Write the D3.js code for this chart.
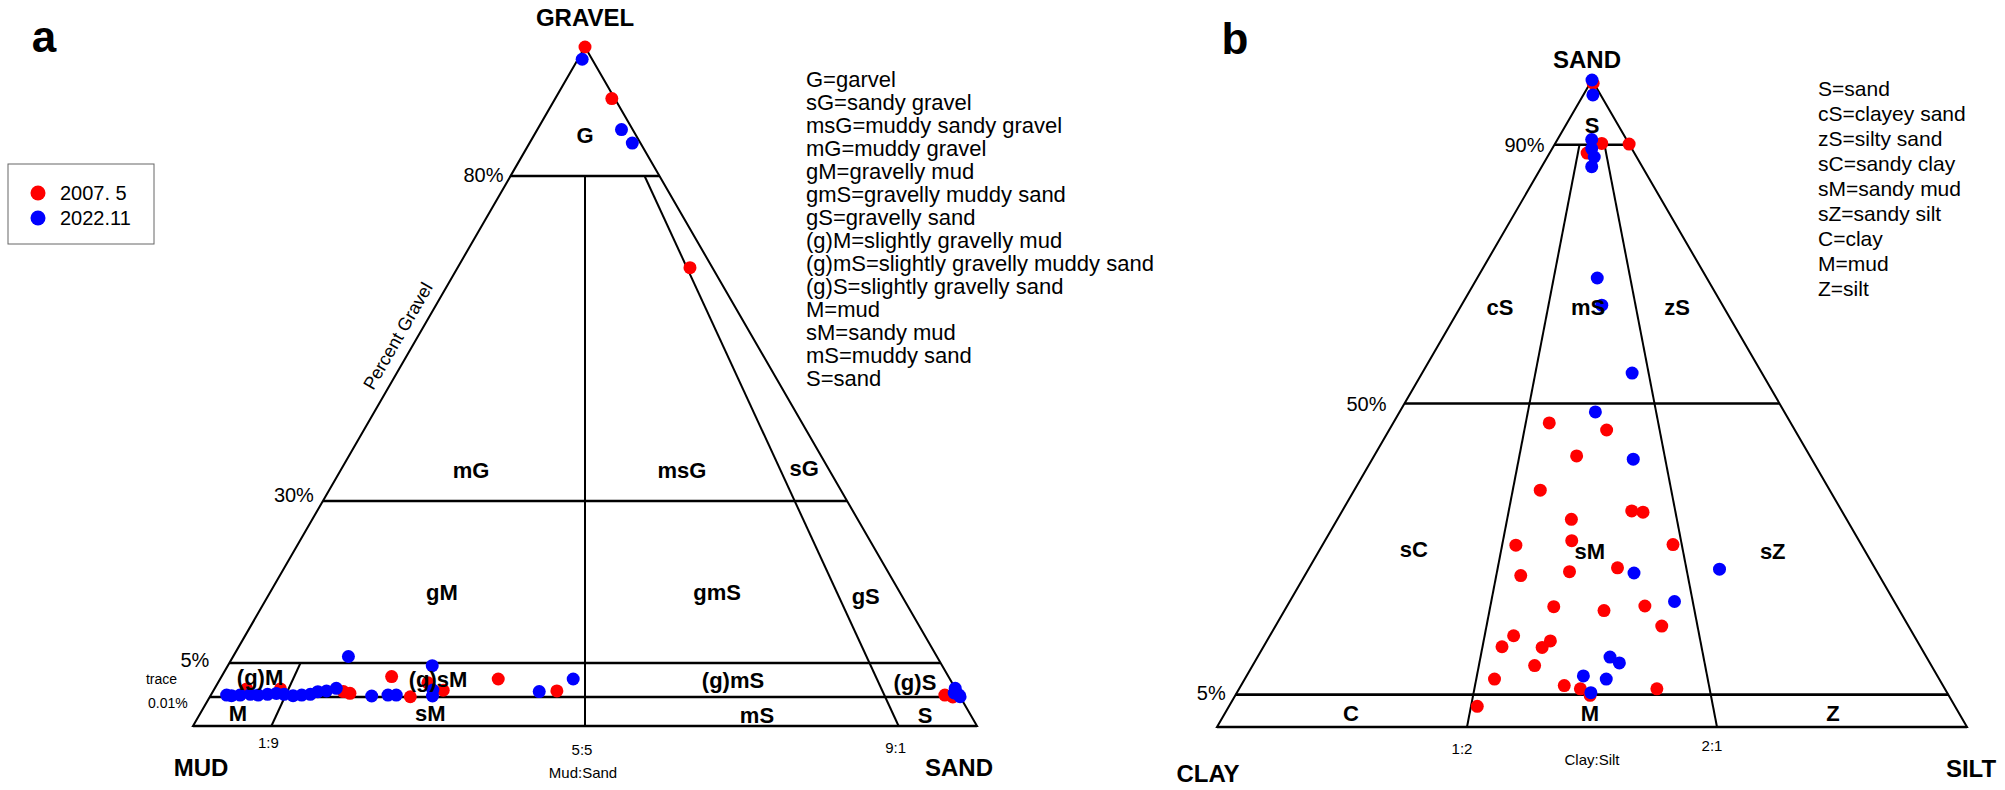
<!DOCTYPE html>
<html><head><meta charset="utf-8">
<script src="https://cdn.jsdelivr.net/npm/d3@7"></script>
<style>
html,body{margin:0;padding:0;background:#fff;}
text{font-family:"Liberation Sans",Arial,sans-serif;fill:#000;}
</style></head>
<body>
<svg id="chart" width="2005" height="790"></svg>
<script>
// ---------- DATA ----------
// Panel a: Folk gravel–sand–mud triangle, each sample [gravel%, sand%, mud%]
const gravelSeries2007 = [
  [100,0,0],[92.0,7.6,0.4],[65.9,31.1,3.0],[3.0,22.7,74.3],[2.65,37.1,60.25],
  [0.9,45.8,53.3],[1.2,4.3,94.5],[1.2,8.8,90.0],[0.8,17.4,81.8],[0.55,18.4,81.05],
  [0.05,26.7,73.25],[2.1,28.0,69.9],[1.0,30.6,68.4],[0.3,97.8,1.9],[0.01,99.0,0.99]
];
const gravelSeries2022 = [
  [98.1,0.57,1.33],[87.2,11.3,1.5],[85.1,13.8,1.1],[6.0,15.4,78.6],[4.6,27.3,68.1],
  [2.65,47.1,50.25],[0.8,43.5,55.7],
  [0.3,2.1,97.6],[0.2,2.8,97.0],[0.3,3.9,95.8],[0.4,5.2,94.4],[0.3,6.3,93.4],[0.4,7.5,92.1],
  [0.54,8.6,90.86],[0.4,9.7,89.9],[0.2,11.0,88.8],[0.3,12.1,87.6],[0.4,13.2,86.4],
  [0.79,14.0,85.21],[0.89,15.1,84.01],[1.29,16.2,82.51],
  [0.16,21.5,78.34],[0.3,23.6,76.1],[0.3,24.7,75.0],[1.04,29.2,69.76],[0.16,29.6,70.24],
  [1.29,98.71,0],[0.3,99.7,0],[0.05,99.95,0],[0.6,98.9,0.5]
];
// Panel b: sand–silt–clay triangle, each sample [sand%, silt%, clay%]
const sandSeries2007 = [
  [99.5,0.4,0.1],[90.2,6.2,3.6],[90.1,9.9,0],[88.7,5.0,6.3],[47.0,20.8,32.2],
  [45.9,29.0,25.1],[41.9,27.0,31.1],[36.6,24.8,38.6],[33.4,38.6,28.0],[33.2,40.2,26.6],
  [32.1,31.2,36.7],[28.2,46.7,25.1],[28.1,25.8,46.1],[28.8,32.9,38.3],[24.6,41.1,34.3],
  [23.4,28.8,47.8],[24.0,35.0,41.0],[18.6,35.6,45.8],[18.0,42.6,39.4],[18.7,47.7,33.6],
  [15.6,51.5,32.9],[14.1,32.5,53.4],[12.4,31.8,55.8],[13.3,37.8,48.9],[12.3,37.2,50.5],
  [9.5,37.6,52.9],[7.4,33.3,59.3],[6.4,43.1,50.5],[5.9,45.5,48.6],[4.9,47.3,47.8],
  [5.9,55.7,38.4],[3.2,33.1,63.7]
];
const sandSeries2022 = [
  [100,0,0],[97.7,1.27,1.03],[90.8,4.56,4.64],[89.4,5.26,5.34],[88.1,6.25,5.65],
  [86.6,6.66,6.74],[69.4,16.0,14.6],[65.2,18.7,16.1],[54.7,28.0,17.3],[48.7,26.1,25.2],
  [41.4,34.8,23.8],[23.8,43.7,32.5],[24.4,54.8,20.8],[19.4,51.3,29.3],[10.8,47.0,42.2],
  [9.9,48.7,41.4],[7.9,44.9,47.2],[7.4,48.2,44.4],[5.3,47.2,47.5]
];
const seriesNames = ["2007. 5","2022.11"];
const seriesColors = ["#ff0000","#0000ff"];

// classification boundaries
const gravelLevels = [80,30,5,0.01];          // horizontal lines, panel a
const gravelTickLabels = ["80%","30%","5%"];
const mudSandRatios = [0.1,0.5,0.9];           // sand/(sand+mud)
const mudSandLabels = ["1:9","5:5","9:1"];
const sandLevels = [90,50,5];                  // horizontal lines, panel b
const sandTickLabels = ["90%","50%","5%"];
const claySiltRatios = [1/3,2/3];              // silt/(silt+clay)
const claySiltLabels = ["1:2","2:1"];

const legendA = ["G=garvel","sG=sandy gravel","msG=muddy sandy gravel","mG=muddy gravel",
  "gM=gravelly mud","gmS=gravelly muddy sand","gS=gravelly sand","(g)M=slightly gravelly mud",
  "(g)mS=slightly gravelly muddy sand","(g)S=slightly gravelly sand","M=mud","sM=sandy mud",
  "mS=muddy sand","S=sand"];
const legendB = ["S=sand","cS=clayey sand","zS=silty sand","sC=sandy clay","sM=sandy mud",
  "sZ=sandy silt","C=clay","M=mud","Z=silt"];

// region names placed at [height fraction, ratio across row]
const regionsA = [["G",0.870,0.5],["mG",0.376,0.267],["msG",0.376,0.698],["sG",0.379,0.95],
  ["gM",0.196,0.273],["gmS",0.197,0.71],["gS",0.19,0.942],
  ["(g)M",0.0707,0.054],["(g)sM",0.0692,0.2986],["(g)mS",0.0677,0.7025],["(g)S",0.0648,0.95],
  ["M",0.0191,0.0488],["sM",0.0177,0.299],["mS",0.0162,0.723],["S",0.0162,0.941]];
const regionsB = [["S",0.929,0.5],["cS",0.649,0.15],["mS",0.649,0.485],["zS",0.649,0.823],
  ["sC",0.2736,0.173],["sM",0.2705,0.496],["sZ",0.272,0.831],
  ["C",0.0201,0.172],["M",0.0201,0.497],["Z",0.0201,0.828]];

// ---------- LAYOUT ----------
const svg = d3.select("#chart");

const A = {cx:585, top:47, base:726, half:392};
const B = {cx:1592, top:80, base:727, half:375};

// panel a gravel axis (irregular, as in GRADISTAT)
const gravelFrac = d3.scaleLinear().domain([0,0.01,5,30,80,100])
  .range([0,0.0427,0.0928,0.3314,0.81,1]);
const yA = d3.scaleLinear().domain([0,1]).range([A.base,A.top]);
const sandFrac = d3.scaleLinear().domain([0,100]).range([0,1]);
const yB = d3.scaleLinear().domain([0,1]).range([B.base,B.top]);

function rowScale(T,f){ const h=(1-f)*T.half; return d3.scaleLinear().domain([0,1]).range([T.cx-h,T.cx+h]); }
function ptA(f,r){ return [rowScale(A,f)(r), yA(f)]; }
function ptB(f,r){ return [rowScale(B,f)(r), yB(f)]; }
function posA(d){ const f=gravelFrac(d[0]); const t=d[1]+d[2]; return ptA(f, t>0? d[1]/t : 0.5); }
function posB(d){ const f=sandFrac(d[0]); const t=d[1]+d[2]; return ptB(f, t>0? d[1]/t : 0.5); }

const line = d3.line();
function seg(g,p,q,w){ g.append("path").attr("d",line([p,q])).attr("stroke","#000")
  .attr("stroke-width",w).attr("fill","none"); }

// ---------- PANEL A ----------
const ga = svg.append("g");
ga.append("path").attr("d",line([ptA(1,0.5),ptA(0,0),ptA(0,1)])+"Z")
  .attr("fill","none").attr("stroke","#000").attr("stroke-width",2);
gravelLevels.forEach(g=>{ const f=gravelFrac(g); seg(ga,ptA(f,0),ptA(f,1),2.6); });
seg(ga,ptA(0,0),ptA(0,1),2.6);
seg(ga,ptA(gravelFrac(5),mudSandRatios[0]),ptA(0,mudSandRatios[0]),2);
seg(ga,ptA(gravelFrac(80),mudSandRatios[1]),ptA(0,mudSandRatios[1]),2);
seg(ga,ptA(gravelFrac(80),mudSandRatios[2]),ptA(0,mudSandRatios[2]),2);

gravelTickLabels.forEach((t,i)=>{
  const f=gravelFrac(gravelLevels[i]); const p=ptA(f,0);
  const dx=[7,9,20][i], dy=[-1,-6,-3][i];
  ga.append("text").attr("x",p[0]-dx).attr("y",p[1]+dy).attr("text-anchor","end")
    .attr("dominant-baseline","central").attr("font-size",20).text(t);
});
{ const p=ptA(gravelFrac(0.01),0);
  ga.append("text").attr("x",p[0]-22).attr("y",p[1]+6).attr("text-anchor","end")
    .attr("dominant-baseline","central").attr("font-size",14).text("0.01%");
  const q=ptA((gravelFrac(5)+gravelFrac(0.01))/2,0);
  ga.append("text").attr("x",q[0]-58).attr("y",q[1]-1).attr("text-anchor","middle")
    .attr("dominant-baseline","central").attr("font-size",14).text("trace");
}
mudSandLabels.forEach((t,i)=>{
  const p=ptA(0,mudSandRatios[i]);
  ga.append("text").attr("x",p[0]-3).attr("y",p[1]+[22,29,27][i]).attr("text-anchor","middle")
    .attr("font-size",15).text(t);
});
ga.append("text").attr("x",A.cx-2).attr("y",A.base+52).attr("text-anchor","middle")
  .attr("font-size",15).text("Mud:Sand");
ga.append("text").attr("x",A.cx).attr("y",26).attr("text-anchor","middle")
  .attr("font-size",24).attr("font-weight","bold").text("GRAVEL");
ga.append("text").attr("x",201).attr("y",A.base+50).attr("text-anchor","middle")
  .attr("font-size",24).attr("font-weight","bold").text("MUD");
ga.append("text").attr("x",959).attr("y",A.base+50).attr("text-anchor","middle")
  .attr("font-size",24).attr("font-weight","bold").text("SAND");
ga.append("text").attr("x",44).attr("y",52).attr("text-anchor","middle")
  .attr("font-size",44).attr("font-weight","bold").text("a");
ga.append("text").attr("transform","translate(398,336) rotate(-60)").attr("text-anchor","middle")
  .attr("dominant-baseline","central").attr("font-size",18).text("Percent Gravel");

[gravelSeries2007,gravelSeries2022].forEach((s,k)=>{
  ga.append("g").selectAll("circle").data(s).join("circle")
    .attr("cx",d=>posA(d)[0]).attr("cy",d=>posA(d)[1]).attr("r",6.5)
    .attr("fill",seriesColors[k]);
});
regionsA.forEach(r=>{ const p=ptA(r[1],r[2]);
  ga.append("text").attr("x",p[0]).attr("y",p[1]).attr("text-anchor","middle")
    .attr("dominant-baseline","central").attr("font-size",22).attr("font-weight","bold").text(r[0]); });

ga.append("g").selectAll("text").data(legendA).join("text")
  .attr("x",806).attr("y",(d,i)=>79+i*23).attr("dominant-baseline","central")
  .attr("font-size",22).text(d=>d);

// series legend
const lg = svg.append("g");
lg.append("rect").attr("x",8).attr("y",164).attr("width",146).attr("height",80)
  .attr("fill","#fff").attr("stroke","#666").attr("stroke-width",1);
seriesNames.forEach((n,i)=>{
  lg.append("circle").attr("cx",38).attr("cy",193+i*25).attr("r",7.5).attr("fill",seriesColors[i]);
  lg.append("text").attr("x",60).attr("y",193+i*25).attr("dominant-baseline","central")
    .attr("font-size",20).text(n);
});

// ---------- PANEL B ----------
const gb = svg.append("g");
gb.append("path").attr("d",line([ptB(1,0.5),ptB(0,0),ptB(0,1)])+"Z")
  .attr("fill","none").attr("stroke","#000").attr("stroke-width",2);
sandLevels.forEach(s=>{ const f=sandFrac(s); seg(gb,ptB(f,0),ptB(f,1),2.6); });
seg(gb,ptB(0,0),ptB(0,1),2.6);
claySiltRatios.forEach(r=>seg(gb,ptB(sandFrac(90),r),ptB(0,r),2));
sandTickLabels.forEach((t,i)=>{
  const p=ptB(sandFrac(sandLevels[i]),0);
  const dx=[10,18,10][i], dy=[0,0,-2][i];
  gb.append("text").attr("x",p[0]-dx).attr("y",p[1]+dy).attr("text-anchor","end")
    .attr("dominant-baseline","central").attr("font-size",20).text(t);
});
claySiltLabels.forEach((t,i)=>{
  const p=ptB(0,claySiltRatios[i]);
  gb.append("text").attr("x",p[0]-5).attr("y",p[1]+[27,24][i]).attr("text-anchor","middle")
    .attr("font-size",15).text(t);
});
gb.append("text").attr("x",B.cx).attr("y",B.base+38).attr("text-anchor","middle")
  .attr("font-size",15).text("Clay:Silt");
gb.append("text").attr("x",1587).attr("y",68).attr("text-anchor","middle")
  .attr("font-size",24).attr("font-weight","bold").text("SAND");
gb.append("text").attr("x",1208).attr("y",782).attr("text-anchor","middle")
  .attr("font-size",24).attr("font-weight","bold").text("CLAY");
gb.append("text").attr("x",1971).attr("y",777).attr("text-anchor","middle")
  .attr("font-size",24).attr("font-weight","bold").text("SILT");
gb.append("text").attr("x",1235).attr("y",54).attr("text-anchor","middle")
  .attr("font-size",44).attr("font-weight","bold").text("b");

[sandSeries2007,sandSeries2022].forEach((s,k)=>{
  gb.append("g").selectAll("circle").data(s).join("circle")
    .attr("cx",d=>posB(d)[0]).attr("cy",d=>posB(d)[1]).attr("r",6.5)
    .attr("fill",seriesColors[k]);
});
regionsB.forEach(r=>{ const p=ptB(r[1],r[2]);
  gb.append("text").attr("x",p[0]).attr("y",p[1]).attr("text-anchor","middle")
    .attr("dominant-baseline","central").attr("font-size",22).attr("font-weight","bold").text(r[0]); });
gb.append("g").selectAll("text").data(legendB).join("text")
  .attr("x",1818).attr("y",(d,i)=>88+i*25).attr("dominant-baseline","central")
  .attr("font-size",21).text(d=>d);
</script>
</body></html>
